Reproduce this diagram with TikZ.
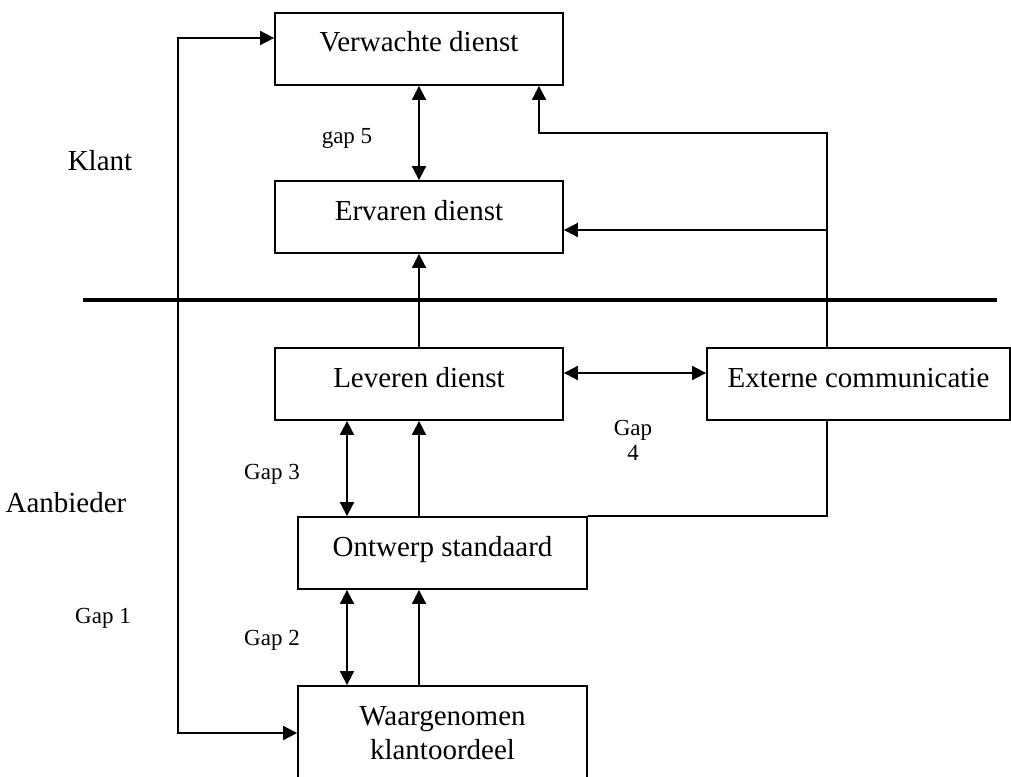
\documentclass[tikz,border=0pt]{standalone}
\usepackage{fontspec}
\setmainfont{Liberation Serif}
\usepackage{tikz}
\usetikzlibrary{
  positioning,
  calc,
  arrows.meta
}

\begin{document}
\begin{tikzpicture}[x=1pt,y=-1pt,
  frame/.style={draw,line width=1.8pt,inner sep=0pt,font=\fontsize{29}{34}\selectfont},
  box/.style={frame,minimum height=72pt,text height=39pt,text depth=33pt},
  lbl/.style={font=\fontsize{29}{34}\selectfont},
  gaplbl/.style={font=\fontsize{23}{25}\selectfont},
  arr/.style={line width=1.8pt,-{Triangle[length=14pt,width=14pt]}},
  dbl/.style={line width=1.8pt,{Triangle[length=14pt,width=14pt]}-{Triangle[length=14pt,width=14pt]}}]
  \useasboundingbox (0,0) rectangle (1011,776);

  % 箱
  \node[box,minimum width=288pt] (verw) at (419,49) {Verwachte dienst};
  \node[box,minimum width=288pt] (erv) at (419,217) {Ervaren dienst};
  \node[box,minimum width=288pt] (lev) at (419,384) {Leveren dienst};
  \node[box,minimum width=303pt] (ext) at (858.5,384) {Externe communicatie};
  \node[box,minimum width=289pt] (ont) at (442.5,553) {Ontwerp standaard};
  \node[frame,minimum width=289pt,minimum height=94pt,align=center] (waar) at (442.5,733) {Waargenomen\\klantoordeel};

  % 補助の座標
  \coordinate (lk) at (178,38);
  \coordinate (rk) at (827,133);
  \coordinate (vk) at (539,133);
  \coordinate (ek) at (827,230);
  \coordinate (g3) at (347,0);
  \coordinate (rij4) at (0,373);

  % 境界線
  \draw[line width=4.5pt] (83,300) -- (997,300);

  % 矢印
  \draw[dbl] (waar.west) -| (lk) -- (verw.west |- lk);
  \draw[dbl] (erv.north) -- (verw.south);
  \draw[arr] (ext.north -| rk) -- (rk) -- (vk) -- (verw.south -| vk);
  \draw[arr] (ek) -- (erv.east |- ek);
  \draw[arr] (lev.north) -- (erv.south);
  \draw[dbl] (lev.east |- rij4) -- (ext.west |- rij4);
  \draw[line width=1.8pt] (ext.south -| rk) |- (ont.north east);
  \draw[dbl] (lev.south -| g3) -- (ont.north -| g3);
  \draw[arr] (ont.north -| lev.south) -- (lev.south);
  \draw[dbl] (ont.south -| g3) -- (waar.north -| g3);
  \draw[arr] (waar.north -| lev.south) -- (ont.south -| lev.south);

  % ラベル
  \node[lbl,anchor=base] (klant) at (100,170) {Klant};
  \node[lbl,anchor=base] (aanb) at (66,512) {Aanbieder};
  \node[gaplbl,anchor=base] (gap5) at (347,143) {gap 5};
  \node[gaplbl,anchor=base] (gap3) at (272,479) {Gap 3};
  \node[gaplbl,align=center] (gap4) at (633,440) {Gap\\4};
  \node[gaplbl,anchor=base] (gap1) at (103,623) {Gap 1};
  \node[gaplbl,anchor=base] (gap2) at (272,645) {Gap 2};
\end{tikzpicture}
\end{document}
